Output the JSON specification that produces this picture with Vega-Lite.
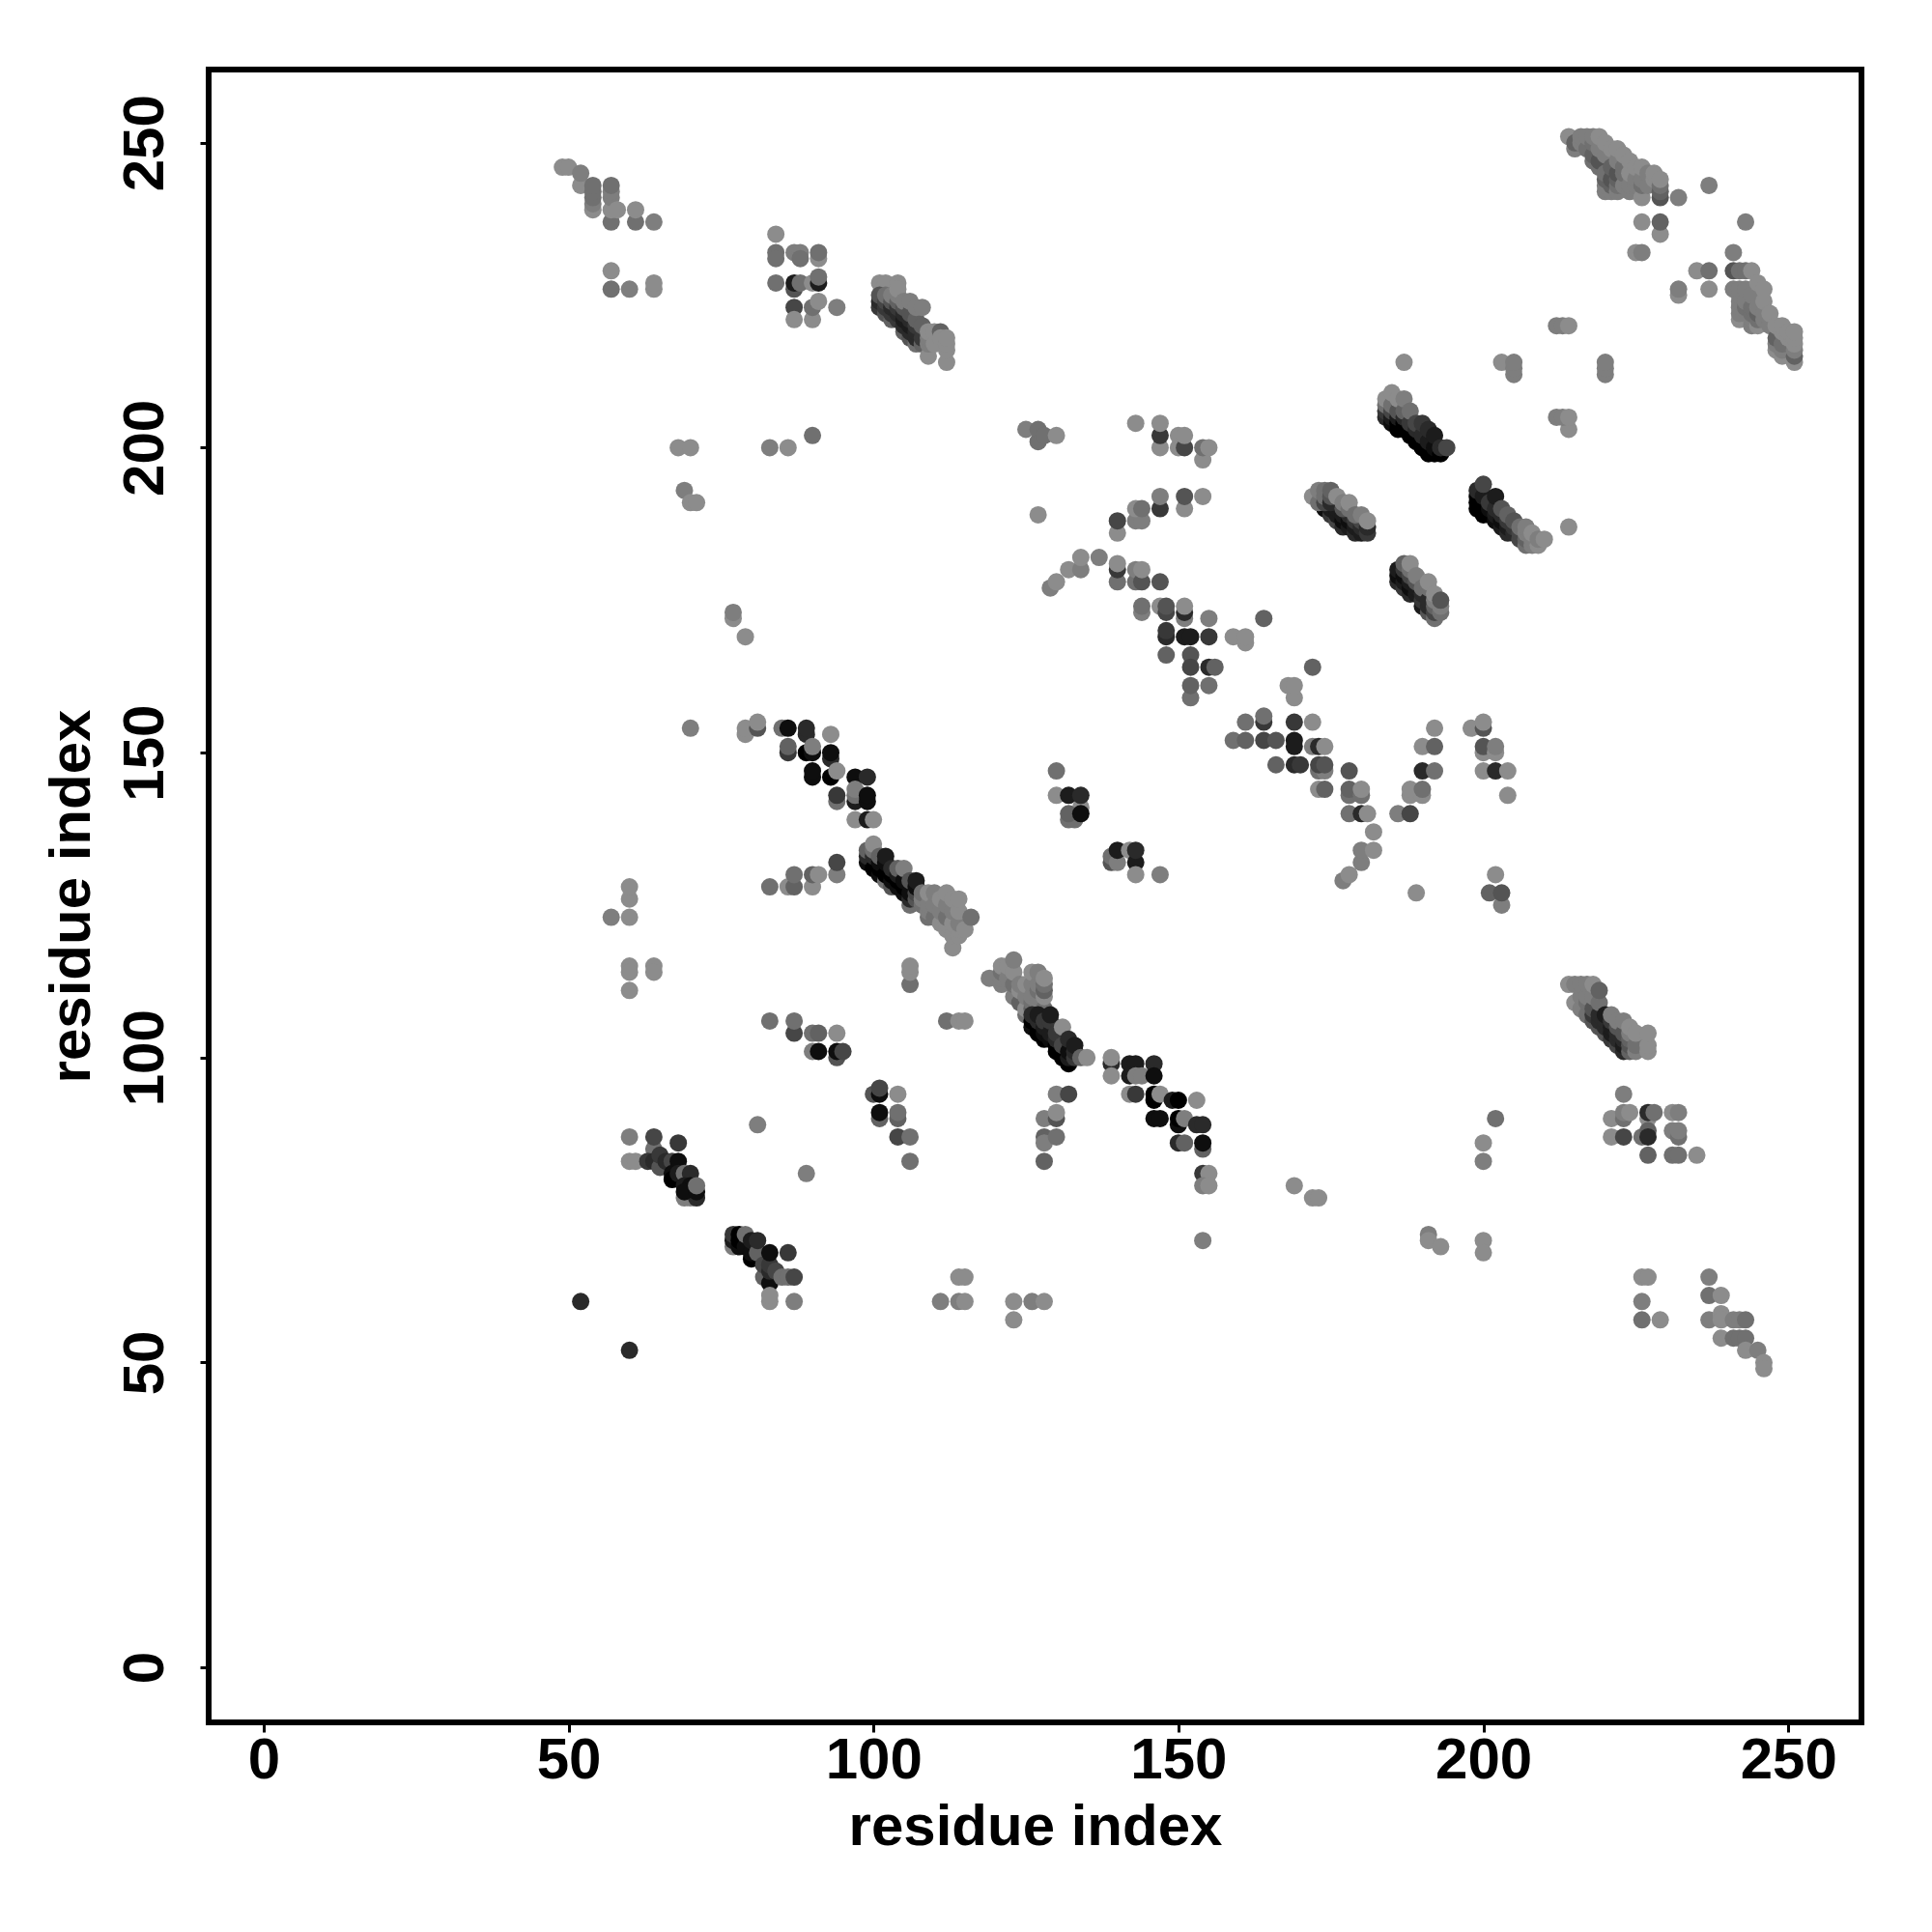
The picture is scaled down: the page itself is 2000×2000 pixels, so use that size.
{"$schema":"https://vega.github.io/schema/vega-lite/v6.json","width":1711,"height":1711,"autosize":{"type":"none"},"padding":{"left":216,"top":72,"right":73,"bottom":217},"background":"white","view":{"stroke":"black","strokeWidth":6,"fill":null},
"data":{"values":[
{"x":49,"y":246,"s":10},{"x":50,"y":246,"s":10},{"x":52,"y":243,"s":10},{"x":52,"y":245,"s":9},{"x":54,"y":239,"s":10},{"x":54,"y":240,"s":9},{"x":54,"y":241,"s":8},{"x":54,"y":242,"s":8},{"x":54,"y":243,"s":8},{"x":57,"y":237,"s":8},{"x":57,"y":239,"s":10},{"x":57,"y":241,"s":9},{"x":57,"y":242,"s":9},{"x":57,"y":243,"s":8},{"x":58,"y":239,"s":10},{"x":61,"y":237,"s":8},{"x":61,"y":239,"s":10},{"x":64,"y":237,"s":9},{"x":57,"y":226,"s":8},{"x":57,"y":229,"s":10},{"x":60,"y":226,"s":9},{"x":64,"y":226,"s":10},{"x":64,"y":227,"s":10},
{"x":226,"y":64,"s":10},{"x":227,"y":64,"s":10},{"x":226,"y":60,"s":9},{"x":226,"y":57,"s":8},{"x":229,"y":57,"s":10},{"x":237,"y":64,"s":9},{"x":237,"y":61,"s":8},{"x":239,"y":61,"s":10},{"x":237,"y":57,"s":9},{"x":239,"y":58,"s":10},{"x":239,"y":57,"s":10},{"x":241,"y":57,"s":9},{"x":242,"y":57,"s":9},{"x":243,"y":57,"s":8},{"x":239,"y":54,"s":10},{"x":241,"y":54,"s":8},{"x":242,"y":54,"s":8},{"x":243,"y":54,"s":8},{"x":243,"y":52,"s":10},{"x":245,"y":52,"s":9},{"x":246,"y":50,"s":10},{"x":246,"y":49,"s":10},
{"x":84,"y":235,"s":10},{"x":84,"y":232,"s":8},{"x":84,"y":231,"s":8},{"x":87,"y":232,"s":9},{"x":88,"y":232,"s":9},{"x":88,"y":231,"s":8},{"x":91,"y":231,"s":10},{"x":91,"y":232,"s":8},{"x":84,"y":227,"s":8},{"x":87,"y":226,"s":6},{"x":87,"y":227,"s":2},{"x":88,"y":227,"s":8},{"x":90,"y":227,"s":10},{"x":91,"y":227,"s":2},{"x":91,"y":228,"s":8},{"x":87,"y":223,"s":5},{"x":87,"y":221,"s":10},{"x":90,"y":221,"s":10},{"x":90,"y":223,"s":8},{"x":91,"y":224,"s":10},{"x":94,"y":223,"s":9},
{"x":101,"y":227,"s":10},{"x":102,"y":227,"s":10},{"x":104,"y":227,"s":10},{"x":101,"y":223,"s":4},{"x":101,"y":224,"s":3},{"x":101,"y":225,"s":6},{"x":102,"y":222,"s":6},{"x":102,"y":223,"s":4},{"x":102,"y":224,"s":5},{"x":102,"y":225,"s":8},{"x":103,"y":221,"s":7},{"x":103,"y":222,"s":4},{"x":103,"y":223,"s":3},{"x":103,"y":224,"s":6},{"x":103,"y":225,"s":9},{"x":104,"y":221,"s":4},{"x":104,"y":222,"s":3},{"x":104,"y":223,"s":4},{"x":104,"y":224,"s":7},{"x":104,"y":225,"s":9},{"x":104,"y":226,"s":10},{"x":105,"y":219,"s":7},{"x":105,"y":220,"s":3},{"x":105,"y":221,"s":2},{"x":105,"y":222,"s":3},{"x":105,"y":223,"s":6},{"x":105,"y":224,"s":9},{"x":106,"y":218,"s":6},{"x":106,"y":219,"s":3},{"x":106,"y":220,"s":2},{"x":106,"y":221,"s":3},{"x":106,"y":222,"s":6},{"x":106,"y":224,"s":9},{"x":107,"y":217,"s":8},{"x":107,"y":218,"s":3},{"x":107,"y":219,"s":3},{"x":107,"y":220,"s":4},{"x":107,"y":221,"s":7},{"x":107,"y":223,"s":9},{"x":108,"y":217,"s":7},{"x":108,"y":218,"s":4},{"x":108,"y":220,"s":7},{"x":108,"y":223,"s":9},{"x":109,"y":215,"s":10},{"x":109,"y":217,"s":9},{"x":109,"y":218,"s":9},{"x":109,"y":219,"s":10},{"x":110,"y":217,"s":10},{"x":110,"y":219,"s":10},{"x":111,"y":219,"s":7},{"x":111,"y":218,"s":10},{"x":112,"y":214,"s":10},{"x":112,"y":216,"s":10},{"x":112,"y":217,"s":10},{"x":112,"y":218,"s":10},
{"x":68,"y":200,"s":10},{"x":70,"y":200,"s":10},{"x":83,"y":200,"s":9},{"x":86,"y":200,"s":10},{"x":90,"y":202,"s":8},{"x":69,"y":193,"s":9},{"x":70,"y":191,"s":10},{"x":71,"y":191,"s":10},
{"x":125,"y":203,"s":9},{"x":127,"y":201,"s":8},{"x":127,"y":203,"s":8},{"x":128,"y":202,"s":8},{"x":130,"y":202,"s":10},{"x":143,"y":204,"s":10},{"x":147,"y":200,"s":10},{"x":147,"y":202,"s":4},{"x":147,"y":204,"s":10},{"x":150,"y":200,"s":10},{"x":150,"y":202,"s":10},{"x":151,"y":200,"s":5},{"x":151,"y":202,"s":10},{"x":154,"y":198,"s":10},{"x":154,"y":200,"s":8},{"x":155,"y":200,"s":10},{"x":127,"y":189,"s":10},{"x":140,"y":186,"s":10},{"x":140,"y":188,"s":5},{"x":143,"y":188,"s":9},{"x":144,"y":188,"s":9},{"x":143,"y":190,"s":10},{"x":144,"y":190,"s":8},{"x":147,"y":190,"s":4},{"x":147,"y":192,"s":9},{"x":151,"y":190,"s":10},{"x":151,"y":192,"s":6},{"x":154,"y":192,"s":10},
{"x":129,"y":177,"s":9},{"x":130,"y":178,"s":10},{"x":132,"y":180,"s":10},{"x":134,"y":180,"s":9},{"x":134,"y":182,"s":10},{"x":137,"y":182,"s":9},{"x":140,"y":178,"s":8},{"x":140,"y":180,"s":4},{"x":140,"y":181,"s":10},{"x":143,"y":178,"s":8},{"x":143,"y":180,"s":9},{"x":144,"y":178,"s":6},{"x":144,"y":180,"s":10},{"x":147,"y":178,"s":6},{"x":144,"y":173,"s":9},{"x":144,"y":174,"s":8},{"x":147,"y":174,"s":10},{"x":148,"y":173,"s":5},{"x":148,"y":174,"s":6},{"x":151,"y":172,"s":9},{"x":151,"y":173,"s":3},{"x":151,"y":174,"s":10},{"x":155,"y":172,"s":9},{"x":148,"y":169,"s":3},{"x":148,"y":170,"s":4},{"x":151,"y":169,"s":2},{"x":152,"y":169,"s":2},{"x":155,"y":169,"s":4},{"x":159,"y":169,"s":10},{"x":161,"y":168,"s":10},{"x":161,"y":169,"s":10},{"x":164,"y":172,"s":7},{"x":148,"y":166,"s":7},{"x":152,"y":166,"s":6},{"x":152,"y":164,"s":5},{"x":155,"y":164,"s":3},{"x":156,"y":164,"s":7},{"x":152,"y":159,"s":8},{"x":152,"y":161,"s":7},{"x":155,"y":161,"s":8},{"x":172,"y":164,"s":7},{"x":168,"y":161,"s":10},{"x":169,"y":159,"s":10},{"x":169,"y":161,"s":10},
{"x":161,"y":155,"s":8},{"x":164,"y":155,"s":4},{"x":164,"y":156,"s":8},{"x":169,"y":155,"s":4},{"x":172,"y":155,"s":10},{"x":159,"y":152,"s":8},{"x":161,"y":152,"s":7},{"x":164,"y":152,"s":5},{"x":166,"y":152,"s":6},{"x":169,"y":152,"s":2},{"x":169,"y":151,"s":2},{"x":172,"y":151,"s":9},{"x":173,"y":151,"s":3},{"x":174,"y":151,"s":10},{"x":166,"y":148,"s":7},{"x":169,"y":148,"s":3},{"x":170,"y":148,"s":4},{"x":173,"y":147,"s":8},{"x":174,"y":147,"s":9},{"x":173,"y":148,"s":5},{"x":174,"y":148,"s":6},{"x":173,"y":144,"s":10},{"x":174,"y":144,"s":7},{"x":178,"y":147,"s":6},{"x":178,"y":143,"s":8},{"x":178,"y":144,"s":7},{"x":180,"y":143,"s":8},{"x":180,"y":144,"s":10},{"x":178,"y":140,"s":8},{"x":180,"y":140,"s":3},{"x":181,"y":140,"s":10},{"x":182,"y":137,"s":10},{"x":180,"y":132,"s":9},{"x":180,"y":134,"s":9},{"x":182,"y":134,"s":10},{"x":177,"y":129,"s":9},{"x":178,"y":130,"s":10},
{"x":186,"y":140,"s":9},{"x":188,"y":140,"s":5},{"x":188,"y":143,"s":10},{"x":188,"y":144,"s":10},{"x":190,"y":143,"s":10},{"x":190,"y":144,"s":8},{"x":190,"y":147,"s":3},{"x":192,"y":147,"s":8},{"x":190,"y":151,"s":10},{"x":192,"y":151,"s":7},{"x":192,"y":154,"s":10},{"x":189,"y":127,"s":10},{"x":198,"y":154,"s":10},{"x":200,"y":154,"s":6},{"x":200,"y":155,"s":10},{"x":200,"y":150,"s":10},{"x":200,"y":151,"s":6},{"x":202,"y":150,"s":10},{"x":202,"y":151,"s":9},{"x":200,"y":147,"s":10},{"x":202,"y":147,"s":3},{"x":204,"y":147,"s":10},{"x":204,"y":143,"s":10},{"x":202,"y":130,"s":10},{"x":201,"y":127,"s":7},{"x":203,"y":125,"s":9},{"x":203,"y":127,"s":6},
{"x":174,"y":190,"s":1},{"x":175,"y":189,"s":4},{"x":175,"y":190,"s":2},{"x":176,"y":188,"s":5},{"x":176,"y":189,"s":2},{"x":176,"y":190,"s":2},{"x":177,"y":187,"s":3},{"x":177,"y":188,"s":1},{"x":177,"y":189,"s":2},{"x":178,"y":187,"s":2},{"x":178,"y":188,"s":1},{"x":178,"y":189,"s":3},{"x":179,"y":186,"s":3},{"x":179,"y":187,"s":2},{"x":179,"y":188,"s":4},{"x":180,"y":186,"s":2},{"x":180,"y":187,"s":3},{"x":180,"y":188,"s":5},{"x":181,"y":186,"s":4},{"x":181,"y":187,"s":3},{"x":172,"y":192,"s":10},{"x":173,"y":191,"s":8},{"x":173,"y":193,"s":9},{"x":174,"y":191,"s":5},{"x":174,"y":192,"s":8},{"x":174,"y":193,"s":8},{"x":175,"y":191,"s":3},{"x":175,"y":192,"s":6},{"x":175,"y":193,"s":7},{"x":176,"y":192,"s":10},{"x":177,"y":190,"s":6},{"x":177,"y":191,"s":9},{"x":178,"y":190,"s":8},{"x":178,"y":191,"s":10},{"x":179,"y":189,"s":8},{"x":180,"y":189,"s":9},{"x":181,"y":188,"s":10},
{"x":186,"y":178,"s":3},{"x":186,"y":179,"s":1},{"x":186,"y":180,"s":2},{"x":187,"y":177,"s":4},{"x":187,"y":178,"s":2},{"x":187,"y":179,"s":1},{"x":187,"y":180,"s":4},{"x":187,"y":181,"s":7},{"x":188,"y":176,"s":3},{"x":188,"y":177,"s":1},{"x":188,"y":178,"s":2},{"x":188,"y":179,"s":5},{"x":188,"y":180,"s":8},{"x":188,"y":181,"s":10},{"x":189,"y":176,"s":2},{"x":189,"y":177,"s":2},{"x":189,"y":178,"s":6},{"x":189,"y":179,"s":9},{"x":190,"y":174,"s":2},{"x":190,"y":175,"s":4},{"x":190,"y":176,"s":3},{"x":190,"y":177,"s":8},{"x":191,"y":173,"s":6},{"x":191,"y":174,"s":3},{"x":191,"y":175,"s":3},{"x":191,"y":177,"s":8},{"x":191,"y":178,"s":10},{"x":192,"y":172,"s":8},{"x":192,"y":173,"s":5},{"x":192,"y":174,"s":7},{"x":192,"y":175,"s":9},{"x":192,"y":176,"s":10},{"x":193,"y":173,"s":8},{"x":193,"y":174,"s":9},{"x":193,"y":175,"s":6},
{"x":184,"y":205,"s":3},{"x":184,"y":206,"s":4},{"x":184,"y":207,"s":8},{"x":184,"y":208,"s":10},{"x":185,"y":204,"s":1},{"x":185,"y":205,"s":2},{"x":185,"y":206,"s":5},{"x":185,"y":207,"s":8},{"x":185,"y":209,"s":10},{"x":186,"y":203,"s":0},{"x":186,"y":204,"s":0},{"x":186,"y":205,"s":2},{"x":186,"y":206,"s":6},{"x":186,"y":208,"s":10},{"x":187,"y":203,"s":0},{"x":187,"y":204,"s":0},{"x":187,"y":205,"s":3},{"x":187,"y":206,"s":7},{"x":187,"y":208,"s":9},{"x":188,"y":202,"s":0},{"x":188,"y":203,"s":0},{"x":188,"y":204,"s":4},{"x":188,"y":206,"s":8},{"x":189,"y":201,"s":0},{"x":189,"y":202,"s":0},{"x":189,"y":203,"s":3},{"x":189,"y":204,"s":5},{"x":190,"y":200,"s":0},{"x":190,"y":201,"s":0},{"x":190,"y":202,"s":3},{"x":190,"y":204,"s":4},{"x":191,"y":199,"s":0},{"x":191,"y":200,"s":0},{"x":191,"y":201,"s":2},{"x":191,"y":203,"s":3},{"x":192,"y":199,"s":0},{"x":192,"y":200,"s":1},{"x":192,"y":202,"s":2},{"x":193,"y":199,"s":0},{"x":193,"y":200,"s":3},{"x":194,"y":200,"s":5},
{"x":199,"y":190,"s":0},{"x":199,"y":191,"s":0},{"x":199,"y":192,"s":0},{"x":199,"y":193,"s":3},{"x":200,"y":189,"s":0},{"x":200,"y":190,"s":0},{"x":200,"y":191,"s":0},{"x":200,"y":192,"s":2},{"x":200,"y":194,"s":5},{"x":201,"y":189,"s":0},{"x":201,"y":190,"s":1},{"x":201,"y":191,"s":4},{"x":202,"y":188,"s":1},{"x":202,"y":189,"s":2},{"x":202,"y":190,"s":3},{"x":202,"y":192,"s":2},{"x":203,"y":187,"s":2},{"x":203,"y":188,"s":1},{"x":203,"y":189,"s":3},{"x":203,"y":190,"s":6},{"x":204,"y":186,"s":3},{"x":204,"y":187,"s":2},{"x":204,"y":188,"s":4},{"x":204,"y":189,"s":7},{"x":205,"y":186,"s":3},{"x":205,"y":187,"s":4},{"x":205,"y":188,"s":6},{"x":206,"y":185,"s":5},{"x":206,"y":186,"s":5},{"x":206,"y":187,"s":8},{"x":207,"y":184,"s":8},{"x":207,"y":185,"s":7},{"x":207,"y":186,"s":9},{"x":207,"y":187,"s":9},{"x":208,"y":184,"s":9},{"x":208,"y":185,"s":9},{"x":208,"y":186,"s":10},{"x":209,"y":184,"s":10},{"x":209,"y":185,"s":9},{"x":210,"y":185,"s":10},
{"x":187,"y":214,"s":10},{"x":214,"y":187,"s":10},{"x":212,"y":220,"s":9},{"x":213,"y":220,"s":9},{"x":214,"y":220,"s":10},{"x":203,"y":214,"s":10},{"x":205,"y":212,"s":9},{"x":205,"y":213,"s":9},{"x":205,"y":214,"s":9},{"x":220,"y":212,"s":9},{"x":220,"y":213,"s":9},{"x":220,"y":214,"s":9},{"x":212,"y":205,"s":9},{"x":214,"y":203,"s":10},{"x":213,"y":205,"s":9},{"x":214,"y":205,"s":10},
{"x":214,"y":251,"s":10},{"x":215,"y":249,"s":9},{"x":215,"y":250,"s":7},{"x":216,"y":250,"s":9},{"x":216,"y":251,"s":9},{"x":217,"y":249,"s":8},{"x":217,"y":251,"s":9},{"x":218,"y":247,"s":8},{"x":218,"y":248,"s":7},{"x":218,"y":250,"s":8},{"x":218,"y":251,"s":9},{"x":219,"y":246,"s":8},{"x":219,"y":247,"s":6},{"x":219,"y":249,"s":9},{"x":219,"y":251,"s":10},{"x":220,"y":242,"s":9},{"x":220,"y":243,"s":9},{"x":220,"y":244,"s":7},{"x":220,"y":245,"s":8},{"x":220,"y":248,"s":9},{"x":220,"y":250,"s":10},{"x":221,"y":242,"s":9},{"x":221,"y":243,"s":7},{"x":221,"y":244,"s":6},{"x":221,"y":246,"s":7},{"x":221,"y":249,"s":10},{"x":222,"y":242,"s":9},{"x":222,"y":243,"s":8},{"x":222,"y":244,"s":7},{"x":222,"y":245,"s":6},{"x":222,"y":247,"s":9},{"x":222,"y":249,"s":10},{"x":223,"y":243,"s":9},{"x":223,"y":245,"s":8},{"x":223,"y":246,"s":8},{"x":223,"y":248,"s":10},{"x":224,"y":242,"s":9},{"x":224,"y":243,"s":9},{"x":224,"y":245,"s":10},{"x":224,"y":247,"s":10},{"x":225,"y":243,"s":9},{"x":225,"y":244,"s":9},{"x":225,"y":246,"s":10},{"x":226,"y":241,"s":10},{"x":226,"y":243,"s":8},{"x":226,"y":244,"s":9},{"x":226,"y":246,"s":10},{"x":227,"y":243,"s":9},{"x":227,"y":245,"s":9},{"x":228,"y":244,"s":10},{"x":228,"y":245,"s":10},{"x":229,"y":241,"s":6},{"x":229,"y":242,"s":7},{"x":229,"y":243,"s":8},{"x":229,"y":244,"s":10},{"x":232,"y":241,"s":9},{"x":237,"y":243,"s":9},{"x":226,"y":237,"s":10},{"x":229,"y":235,"s":10},{"x":229,"y":237,"s":7},{"x":225,"y":232,"s":10},{"x":226,"y":232,"s":9},{"x":243,"y":237,"s":9},{"x":241,"y":232,"s":9},{"x":235,"y":229,"s":10},{"x":237,"y":229,"s":8},{"x":232,"y":225,"s":10},{"x":232,"y":226,"s":9},{"x":237,"y":226,"s":10},{"x":241,"y":226,"s":9},{"x":241,"y":229,"s":6},
{"x":242,"y":221,"s":10},{"x":242,"y":222,"s":9},{"x":242,"y":223,"s":9},{"x":242,"y":224,"s":9},{"x":242,"y":225,"s":9},{"x":242,"y":226,"s":9},{"x":243,"y":223,"s":8},{"x":243,"y":224,"s":9},{"x":243,"y":226,"s":9},{"x":244,"y":220,"s":9},{"x":244,"y":221,"s":9},{"x":244,"y":222,"s":8},{"x":244,"y":223,"s":8},{"x":244,"y":225,"s":9},{"x":245,"y":220,"s":10},{"x":245,"y":221,"s":8},{"x":245,"y":222,"s":7},{"x":245,"y":223,"s":9},{"x":246,"y":221,"s":9},{"x":246,"y":222,"s":9},{"x":246,"y":224,"s":10},{"x":242,"y":229,"s":8},{"x":243,"y":229,"s":8},{"x":244,"y":229,"s":10},{"x":245,"y":227,"s":10},{"x":246,"y":226,"s":10},{"x":247,"y":220,"s":9},{"x":247,"y":222,"s":10},{"x":248,"y":216,"s":10},{"x":248,"y":217,"s":9},{"x":248,"y":218,"s":7},{"x":248,"y":220,"s":10},{"x":249,"y":215,"s":10},{"x":249,"y":216,"s":9},{"x":249,"y":217,"s":8},{"x":249,"y":219,"s":10},{"x":249,"y":220,"s":10},{"x":250,"y":218,"s":10},{"x":250,"y":219,"s":10},{"x":251,"y":214,"s":10},{"x":251,"y":215,"s":7},{"x":251,"y":216,"s":9},{"x":251,"y":217,"s":10},{"x":251,"y":218,"s":10},{"x":251,"y":219,"s":10},
{"x":214,"y":112,"s":10},{"x":215,"y":109,"s":10},{"x":215,"y":112,"s":9},{"x":216,"y":108,"s":9},{"x":216,"y":110,"s":9},{"x":216,"y":112,"s":9},{"x":217,"y":107,"s":8},{"x":217,"y":109,"s":8},{"x":217,"y":110,"s":9},{"x":217,"y":112,"s":9},{"x":218,"y":106,"s":6},{"x":218,"y":107,"s":4},{"x":218,"y":108,"s":6},{"x":218,"y":110,"s":9},{"x":218,"y":112,"s":10},{"x":219,"y":105,"s":6},{"x":219,"y":106,"s":3},{"x":219,"y":107,"s":3},{"x":219,"y":109,"s":8},{"x":219,"y":111,"s":7},{"x":220,"y":104,"s":6},{"x":220,"y":105,"s":3},{"x":220,"y":106,"s":3},{"x":220,"y":107,"s":2},{"x":221,"y":103,"s":4},{"x":221,"y":104,"s":2},{"x":221,"y":105,"s":2},{"x":221,"y":106,"s":4},{"x":221,"y":107,"s":9},{"x":222,"y":102,"s":5},{"x":222,"y":103,"s":3},{"x":222,"y":104,"s":3},{"x":222,"y":105,"s":6},{"x":222,"y":106,"s":9},{"x":223,"y":101,"s":3},{"x":223,"y":102,"s":2},{"x":223,"y":103,"s":3},{"x":223,"y":104,"s":6},{"x":223,"y":106,"s":9},{"x":224,"y":101,"s":7},{"x":224,"y":102,"s":6},{"x":224,"y":103,"s":7},{"x":224,"y":104,"s":9},{"x":224,"y":105,"s":10},{"x":225,"y":101,"s":9},{"x":225,"y":102,"s":8},{"x":225,"y":104,"s":10},{"x":227,"y":101,"s":10},{"x":227,"y":102,"s":10},{"x":227,"y":104,"s":10},
{"x":223,"y":94,"s":9},{"x":221,"y":90,"s":10},{"x":223,"y":90,"s":8},{"x":223,"y":91,"s":9},{"x":224,"y":91,"s":10},{"x":227,"y":90,"s":10},{"x":227,"y":91,"s":3},{"x":228,"y":91,"s":8},{"x":231,"y":91,"s":10},{"x":232,"y":91,"s":9},{"x":231,"y":88,"s":9},{"x":232,"y":87,"s":8},{"x":232,"y":88,"s":9},{"x":221,"y":87,"s":10},{"x":223,"y":87,"s":5},{"x":226,"y":87,"s":8},{"x":227,"y":88,"s":7},{"x":227,"y":87,"s":3},{"x":227,"y":84,"s":7},{"x":231,"y":84,"s":8},{"x":232,"y":84,"s":8},{"x":235,"y":84,"s":10},
{"x":79,"y":153,"s":10},{"x":79,"y":154,"s":10},{"x":81,"y":154,"s":6},{"x":81,"y":155,"s":10},{"x":85,"y":154,"s":8},{"x":86,"y":154,"s":1},{"x":89,"y":153,"s":3},{"x":89,"y":154,"s":3},{"x":93,"y":153,"s":10},{"x":86,"y":150,"s":4},{"x":86,"y":151,"s":7},{"x":89,"y":150,"s":0},{"x":90,"y":150,"s":1},{"x":90,"y":151,"s":9},{"x":93,"y":149,"s":3},{"x":93,"y":150,"s":1},{"x":90,"y":146,"s":1},{"x":90,"y":147,"s":1},{"x":93,"y":146,"s":0},{"x":94,"y":147,"s":10},{"x":97,"y":146,"s":1},{"x":99,"y":146,"s":3},{"x":94,"y":142,"s":8},{"x":94,"y":143,"s":4},{"x":97,"y":142,"s":2},{"x":97,"y":143,"s":8},{"x":97,"y":144,"s":9},{"x":99,"y":142,"s":1},{"x":99,"y":143,"s":1},{"x":97,"y":139,"s":10},{"x":99,"y":139,"s":2},{"x":100,"y":139,"s":10},
{"x":99,"y":132,"s":1},{"x":99,"y":133,"s":3},{"x":99,"y":134,"s":7},{"x":100,"y":131,"s":0},{"x":100,"y":133,"s":3},{"x":100,"y":134,"s":8},{"x":100,"y":135,"s":10},{"x":101,"y":130,"s":1},{"x":101,"y":131,"s":0},{"x":101,"y":132,"s":1},{"x":101,"y":133,"s":7},{"x":102,"y":129,"s":8},{"x":102,"y":130,"s":0},{"x":102,"y":132,"s":1},{"x":102,"y":133,"s":2},{"x":103,"y":128,"s":6},{"x":103,"y":129,"s":1},{"x":103,"y":130,"s":0},{"x":103,"y":131,"s":3},{"x":104,"y":128,"s":1},{"x":104,"y":129,"s":0},{"x":104,"y":130,"s":2},{"x":104,"y":131,"s":7},{"x":105,"y":127,"s":1},{"x":105,"y":128,"s":0},{"x":105,"y":129,"s":1},{"x":105,"y":131,"s":9},{"x":106,"y":125,"s":8},{"x":106,"y":126,"s":3},{"x":106,"y":127,"s":1},{"x":106,"y":129,"s":6},{"x":107,"y":126,"s":6},{"x":107,"y":127,"s":5},{"x":107,"y":128,"s":1},{"x":107,"y":129,"s":2},{"x":108,"y":125,"s":8},{"x":108,"y":126,"s":9},{"x":108,"y":127,"s":8},{"x":109,"y":123,"s":8},{"x":109,"y":124,"s":9},{"x":109,"y":125,"s":9},{"x":109,"y":127,"s":10},{"x":110,"y":123,"s":8},{"x":110,"y":125,"s":9},{"x":110,"y":127,"s":9},{"x":111,"y":122,"s":10},{"x":111,"y":124,"s":9},{"x":111,"y":126,"s":10},{"x":112,"y":121,"s":10},{"x":112,"y":122,"s":10},{"x":112,"y":123,"s":8},{"x":112,"y":125,"s":9},{"x":112,"y":127,"s":10},{"x":113,"y":118,"s":10},{"x":113,"y":120,"s":10},{"x":113,"y":122,"s":10},{"x":113,"y":124,"s":9},{"x":113,"y":126,"s":10},{"x":114,"y":120,"s":10},{"x":114,"y":121,"s":10},{"x":114,"y":122,"s":9},{"x":114,"y":124,"s":10},{"x":114,"y":126,"s":10},{"x":115,"y":121,"s":10},{"x":116,"y":123,"s":8},
{"x":119,"y":113,"s":9},{"x":121,"y":112,"s":9},{"x":121,"y":113,"s":9},{"x":121,"y":114,"s":8},{"x":121,"y":115,"s":10},{"x":122,"y":113,"s":9},{"x":122,"y":115,"s":10},{"x":123,"y":110,"s":9},{"x":123,"y":112,"s":8},{"x":123,"y":114,"s":10},{"x":123,"y":116,"s":9},{"x":124,"y":109,"s":7},{"x":124,"y":111,"s":10},{"x":124,"y":112,"s":9},{"x":125,"y":107,"s":8},{"x":125,"y":108,"s":10},{"x":125,"y":110,"s":9},{"x":125,"y":112,"s":10},{"x":126,"y":108,"s":7},{"x":126,"y":109,"s":8},{"x":126,"y":110,"s":9},{"x":126,"y":112,"s":9},{"x":126,"y":114,"s":10},{"x":127,"y":109,"s":9},{"x":127,"y":111,"s":8},{"x":127,"y":112,"s":9},{"x":127,"y":114,"s":9},{"x":128,"y":108,"s":8},{"x":128,"y":110,"s":10},{"x":128,"y":111,"s":7},{"x":128,"y":112,"s":8},{"x":128,"y":113,"s":10},{"x":126,"y":105,"s":1},{"x":126,"y":106,"s":0},{"x":126,"y":107,"s":3},{"x":127,"y":104,"s":0},{"x":127,"y":105,"s":0},{"x":127,"y":106,"s":3},{"x":127,"y":107,"s":2},{"x":128,"y":103,"s":0},{"x":128,"y":104,"s":1},{"x":128,"y":105,"s":2},{"x":128,"y":106,"s":4},{"x":129,"y":103,"s":1},{"x":129,"y":104,"s":2},{"x":129,"y":106,"s":4},{"x":129,"y":107,"s":2},{"x":130,"y":101,"s":0},{"x":130,"y":102,"s":0},{"x":130,"y":103,"s":3},{"x":130,"y":104,"s":4},{"x":131,"y":100,"s":0},{"x":131,"y":101,"s":0},{"x":131,"y":102,"s":5},{"x":131,"y":105,"s":10},{"x":132,"y":99,"s":0},{"x":132,"y":100,"s":2},{"x":132,"y":101,"s":1},{"x":132,"y":103,"s":3},{"x":133,"y":100,"s":4},{"x":133,"y":101,"s":3},{"x":133,"y":102,"s":2},{"x":134,"y":100,"s":7},{"x":135,"y":100,"s":10},
{"x":128,"y":90,"s":9},{"x":130,"y":90,"s":6},{"x":130,"y":91,"s":10},{"x":128,"y":87,"s":7},{"x":128,"y":86,"s":9},{"x":130,"y":87,"s":8},{"x":128,"y":83,"s":7},{"x":130,"y":94,"s":9},{"x":132,"y":94,"s":5},
{"x":139,"y":99,"s":3},{"x":139,"y":100,"s":10},{"x":139,"y":97,"s":10},{"x":142,"y":99,"s":2},{"x":143,"y":99,"s":2},{"x":146,"y":99,"s":3},{"x":142,"y":97,"s":2},{"x":143,"y":97,"s":9},{"x":144,"y":97,"s":9},{"x":146,"y":97,"s":1},{"x":142,"y":94,"s":10},{"x":143,"y":94,"s":4},{"x":146,"y":93,"s":0},{"x":146,"y":94,"s":0},{"x":147,"y":94,"s":10},{"x":149,"y":93,"s":2},{"x":150,"y":93,"s":0},{"x":153,"y":93,"s":10},{"x":146,"y":90,"s":1},{"x":147,"y":90,"s":1},{"x":150,"y":89,"s":1},{"x":150,"y":90,"s":0},{"x":151,"y":90,"s":9},{"x":153,"y":89,"s":3},{"x":154,"y":89,"s":3},{"x":150,"y":86,"s":3},{"x":151,"y":86,"s":7},{"x":154,"y":85,"s":7},{"x":154,"y":86,"s":1},{"x":154,"y":81,"s":4},{"x":155,"y":81,"s":10},{"x":154,"y":79,"s":9},{"x":155,"y":79,"s":10},{"x":154,"y":70,"s":9},
{"x":130,"y":147,"s":8},{"x":130,"y":143,"s":10},{"x":132,"y":143,"s":2},{"x":134,"y":141,"s":10},{"x":134,"y":143,"s":3},{"x":132,"y":139,"s":8},{"x":133,"y":139,"s":8},{"x":132,"y":140,"s":7},{"x":134,"y":140,"s":1},{"x":139,"y":132,"s":6},{"x":139,"y":133,"s":8},{"x":140,"y":132,"s":9},{"x":140,"y":134,"s":2},{"x":142,"y":134,"s":10},{"x":143,"y":132,"s":2},{"x":143,"y":134,"s":3},{"x":143,"y":130,"s":10},{"x":147,"y":130,"s":9},
{"x":83,"y":128,"s":8},{"x":86,"y":128,"s":10},{"x":87,"y":128,"s":7},{"x":90,"y":128,"s":10},{"x":87,"y":130,"s":8},{"x":90,"y":130,"s":7},{"x":91,"y":130,"s":10},{"x":94,"y":130,"s":9},{"x":94,"y":132,"s":5},{"x":83,"y":106,"s":8},{"x":87,"y":104,"s":5},{"x":87,"y":106,"s":8},{"x":90,"y":104,"s":8},{"x":91,"y":104,"s":7},{"x":94,"y":104,"s":10},{"x":90,"y":101,"s":9},{"x":91,"y":101,"s":1},{"x":94,"y":100,"s":6},{"x":94,"y":101,"s":1},{"x":95,"y":101,"s":5},
{"x":100,"y":94,"s":6},{"x":101,"y":94,"s":1},{"x":101,"y":95,"s":5},{"x":104,"y":94,"s":10},{"x":101,"y":90,"s":7},{"x":101,"y":91,"s":1},{"x":104,"y":90,"s":7},{"x":104,"y":91,"s":8},{"x":104,"y":87,"s":5},{"x":106,"y":87,"s":8},{"x":106,"y":83,"s":8},{"x":81,"y":89,"s":9},{"x":89,"y":81,"s":9},{"x":106,"y":112,"s":8},{"x":106,"y":114,"s":10},{"x":106,"y":115,"s":10},{"x":112,"y":106,"s":8},{"x":114,"y":106,"s":10},{"x":115,"y":106,"s":10},{"x":57,"y":123,"s":9},{"x":60,"y":123,"s":10},{"x":60,"y":126,"s":10},{"x":60,"y":128,"s":10},{"x":60,"y":115,"s":10},{"x":60,"y":114,"s":10},{"x":60,"y":111,"s":10},{"x":64,"y":115,"s":10},{"x":64,"y":114,"s":10},
{"x":52,"y":60,"s":3},{"x":60,"y":52,"s":3},{"x":60,"y":87,"s":9},{"x":60,"y":83,"s":10},{"x":61,"y":83,"s":10},{"x":64,"y":85,"s":8},{"x":64,"y":87,"s":5},{"x":68,"y":86,"s":4},{"x":63,"y":83,"s":4},{"x":64,"y":83,"s":3},{"x":65,"y":82,"s":6},{"x":65,"y":84,"s":4},{"x":66,"y":83,"s":3},{"x":67,"y":83,"s":5},{"x":67,"y":81,"s":1},{"x":67,"y":80,"s":0},{"x":68,"y":83,"s":1},{"x":68,"y":81,"s":2},{"x":69,"y":81,"s":8},{"x":70,"y":81,"s":3},{"x":69,"y":79,"s":2},{"x":70,"y":79,"s":1},{"x":69,"y":77,"s":9},{"x":70,"y":77,"s":9},{"x":71,"y":77,"s":3},{"x":69,"y":78,"s":1},{"x":71,"y":78,"s":1},{"x":71,"y":79,"s":8},
{"x":77,"y":69,"s":9},{"x":77,"y":70,"s":2},{"x":77,"y":71,"s":4},{"x":78,"y":69,"s":1},{"x":78,"y":70,"s":0},{"x":78,"y":71,"s":0},{"x":79,"y":69,"s":1},{"x":79,"y":71,"s":8},{"x":80,"y":67,"s":0},{"x":80,"y":68,"s":1},{"x":80,"y":70,"s":2},{"x":81,"y":68,"s":7},{"x":81,"y":70,"s":3},{"x":82,"y":64,"s":7},{"x":82,"y":66,"s":5},{"x":83,"y":63,"s":1},{"x":83,"y":65,"s":3},{"x":83,"y":66,"s":4},{"x":83,"y":68,"s":1},{"x":84,"y":65,"s":5},{"x":83,"y":60,"s":10},{"x":83,"y":61,"s":10},{"x":86,"y":68,"s":4},{"x":85,"y":64,"s":8},{"x":86,"y":64,"s":8},{"x":87,"y":64,"s":5},{"x":87,"y":60,"s":9},
{"x":114,"y":64,"s":10},{"x":115,"y":64,"s":10},{"x":111,"y":60,"s":9},{"x":114,"y":60,"s":9},{"x":115,"y":60,"s":10},{"x":123,"y":60,"s":10},{"x":123,"y":57,"s":10},{"x":126,"y":60,"s":9},{"x":128,"y":60,"s":10},
{"x":70,"y":154,"s":9},{"x":77,"y":172,"s":10},{"x":77,"y":173,"s":9},{"x":79,"y":169,"s":10},{"x":169,"y":79,"s":10},{"x":172,"y":77,"s":10},{"x":173,"y":77,"s":10},{"x":191,"y":71,"s":9},{"x":191,"y":70,"s":10},{"x":193,"y":69,"s":10},{"x":200,"y":70,"s":10},{"x":200,"y":68,"s":10},{"x":200,"y":86,"s":10},{"x":200,"y":83,"s":9},{"x":202,"y":90,"s":8}
]},
"mark":{"type":"point","filled":true,"size":324,"opacity":1},
"encoding":{
"x":{"field":"x","type":"quantitative","scale":{"domain":[-9,262],"nice":false,"zero":false},"axis":{"title":"residue index","values":[0,50,100,150,200,250],"grid":false,"domain":false,"tickSize":10,"tickWidth":3,"tickColor":"black","labelFont":"Liberation Sans","labelFontWeight":"bold","labelFontSize":60,"labelColor":"black","labelPadding":0,"labelFlush":false,"labelOverlap":false,"titleFont":"Liberation Sans","titleFontWeight":"bold","titleFontSize":60,"titleColor":"black","titlePadding":10}},
"y":{"field":"y","type":"quantitative","scale":{"domain":[-9,262],"nice":false,"zero":false},"axis":{"title":"residue index","values":[0,50,100,150,200,250],"grid":false,"domain":false,"tickSize":9,"tickWidth":3,"tickColor":"black","labelFont":"Liberation Sans","labelFontWeight":"bold","labelFontSize":60,"labelColor":"black","labelAngle":-90,"labelAlign":"center","labelBaseline":"bottom","labelPadding":26,"labelFlush":false,"labelOverlap":false,"titleFont":"Liberation Sans","titleFontWeight":"bold","titleFontSize":60,"titleColor":"black","titlePadding":15}},
"color":{"field":"s","type":"quantitative","legend":null,"scale":{"domain":[0,10],"range":["#000000","#8c8c8c"],"interpolate":"rgb"}}
}}
